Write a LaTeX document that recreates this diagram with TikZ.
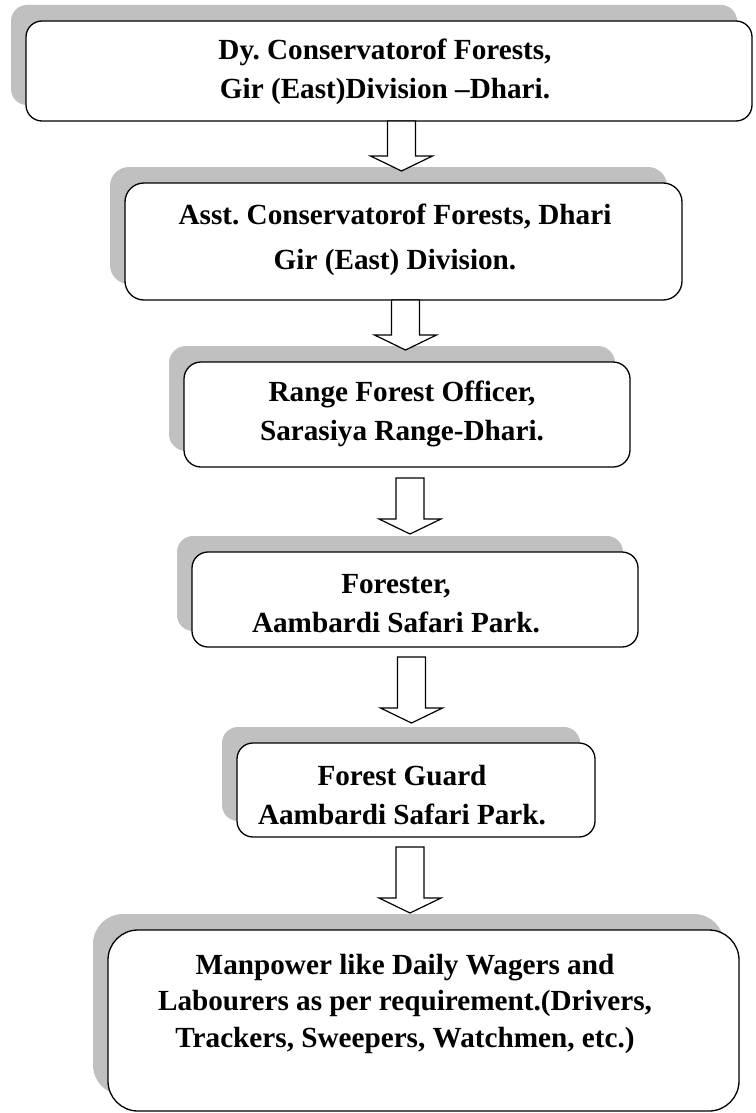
\documentclass[tikz,border=0pt]{standalone}
\usepackage{fontspec}
\setmainfont{Liberation Serif}
\usetikzlibrary{shadows}
\usetikzlibrary{calc}
\definecolor{shadowgrey}{RGB}{192,192,192}
\frenchspacing

\begin{document}
\begin{tikzpicture}[x=1pt,y=-1pt]
	\tikzstyle{post}=[draw,line width=1.3pt,fill=white,rectangle,inner sep=0pt,drop shadow={shadow xshift=-15pt,shadow yshift=16pt,fill=shadowgrey,opacity=1}]
	\tikzstyle{caption}=[align=center,inner sep=0pt,font=\bfseries\fontsize{29.2}{39}\selectfont]
	\tikzstyle{down arrow}=[draw,line width=1.2pt,fill=white,to path={let \p1=(\tikztostart), \p2=(\tikztotarget) in
		(\x1-14pt,\y1) -- (\x1+14pt,\y1) -- (\x1+14pt,\y2+15pt) -- (\x1+31pt,\y2+15pt) -- (\x2,\y2)
		-- (\x1-31pt,\y2+15pt) -- (\x1-14pt,\y2+15pt) -- cycle}]
	
	\useasboundingbox (0,0) rectangle (755,1113);
	
	% Draw the posts, top to bottom
	\node[post,rounded corners=16pt,minimum width=726pt,minimum height=100pt] (DCF) at (389,71) {};
	\node[post,rounded corners=19pt,minimum width=557pt,minimum height=117pt] (ACF) at (403.5,241.5) {};
	\node[post,rounded corners=17pt,minimum width=446pt,minimum height=105pt] (RFO) at (407,414.5) {};
	\node[post,rounded corners=16pt,minimum width=446pt,minimum height=95pt] (FOR) at (415,599.5) {};
	\node[post,rounded corners=16pt,minimum width=358pt,minimum height=94pt] (FG) at (416,790) {};
	\node[post,rounded corners=30pt,minimum width=631pt,minimum height=181pt] (MP) at (423.5,1020.5) {};
	
	% Write the titles
	\node[caption] (DCF-t) at (385,72) {Dy. Conservatorof Forests,\\Gir (East)Division --Dhari.};
	\node[caption] (ACF-t) at (395,240) {Asst. Conservatorof Forests, Dhari\\[6pt]Gir (East) Division.};
	\node[caption] (RFO-t) at (402,414) {Range Forest Officer,\\Sarasiya Range-Dhari.};
	\node[caption] (FOR-t) at (396,603.5) {Forester,\\Aambardi Safari Park.};
	\node[caption] (FG-t) at (402,795) {Forest Guard\\Aambardi Safari Park.};
	\node[caption,font=\bfseries\fontsize{29.2}{36.5}\selectfont] (MP-t) at (405,1003.5) {Manpower like Daily Wagers and\\Labourers as per requirement.(Drivers,\\Trackers, Sweepers, Watchmen, etc.)};
	
	% Arrow ends
	\coordinate (A1-s) at (401.5,121);
	\coordinate (A1-e) at (401.5,171);
	\coordinate (A2-s) at (405.5,300);
	\coordinate (A2-e) at (405.5,350);
	\coordinate (A3-s) at (410,478);
	\coordinate (A3-e) at (410,534);
	\coordinate (A4-s) at (411.5,657);
	\coordinate (A4-e) at (411.5,723);
	\coordinate (A5-s) at (410,847);
	\coordinate (A5-e) at (410,913);
	
	% Connect the posts
	\foreach \i in {1,...,5}
	\draw[down arrow] (A\i-s) to (A\i-e);
	
\end{tikzpicture}
\end{document}
